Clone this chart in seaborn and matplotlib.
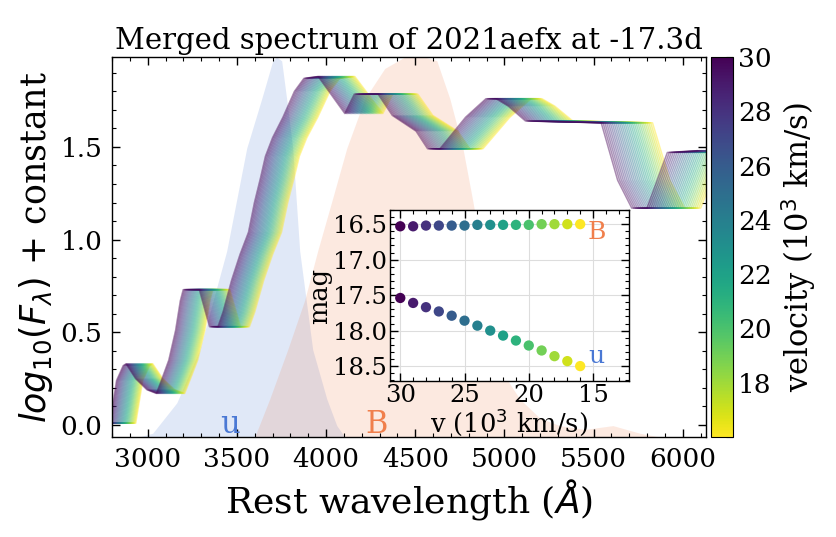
import matplotlib
matplotlib.use('Agg')
import matplotlib.pyplot as plt
import numpy as np
import pandas as pd
import seaborn as sns
from matplotlib.ticker import MultipleLocator

# template spectrum, as it looks at 16e3 km/s (the yellow copy)
wave_16 = [2888, 2933, 2972, 3011, 3028, 3084, 3151, 3207, 3236, 3280, 3320, 3348, 3365,
           3460, 3520, 3570, 3600, 3650, 3700, 3750, 3785, 3820, 3850, 3892, 3953, 4021,
           4077, 4161, 4318, 4374, 4514, 4598, 4738, 4806, 4879, 5030, 5150, 5210, 5282,
           5383, 5830, 5927, 6010, 6100, 6220, 6400]
flux_16 = [0.01, 0.01, 0.24, 0.32, 0.33, 0.25, 0.19, 0.17, 0.24, 0.35, 0.51, 0.67, 0.73,
           0.73, 0.53, 0.53, 0.61, 0.78, 0.92, 1.04, 1.20, 1.33, 1.45, 1.55, 1.66, 1.80,
           1.87, 1.88, 1.68, 1.785, 1.785, 1.67, 1.585, 1.49, 1.49, 1.66, 1.76, 1.76, 1.72,
           1.64, 1.63, 1.32, 1.17, 1.17, 1.47, 1.48]
spec_vel = [16.0, 16.5, 17.0, 17.5, 18.0, 18.5, 19.0, 19.5, 20.0, 20.5, 21.0, 21.5, 22.0,
            22.5, 23.0, 23.5, 24.0, 24.5, 25.0, 25.5, 26.0, 26.5, 27.0, 27.5, 28.0, 28.5,
            29.0, 29.5, 30.0]

# filter curves (normalised transmission)
u_wave = [2950, 3028, 3163, 3292, 3443, 3555, 3639, 3701, 3723, 3751, 3779, 3813, 3852,
          3925, 4004, 4060, 4105, 4200]
u_trans = [0.0, 0.01, 0.09, 0.23, 0.49, 0.76, 0.89, 0.99, 1.0, 0.99, 0.89, 0.76, 0.49,
           0.23, 0.10, 0.03, 0.0, 0.0]
B_wave = [3500, 3600, 3684, 3785, 3880, 3953, 4032, 4116, 4217, 4329, 4441, 4553, 4621,
          4694, 4767, 4823, 4870, 4915, 4974, 5086, 5198, 5310, 5451, 5608, 5759, 5871, 6000]
B_trans = [0.0, 0.0, 0.10, 0.23, 0.36, 0.49, 0.62, 0.76, 0.89, 0.97, 1.0, 1.0, 0.99,
           0.89, 0.76, 0.62, 0.49, 0.32, 0.18, 0.10, 0.05, 0.03, 0.02, 0.03, 0.01, 0.0, 0.0]

# synthetic photometry for the inset
phot_vel = [30, 29, 28, 27, 26, 25, 24, 23, 22, 21, 20, 19, 18, 17, 16]
mag_B = [16.53, 16.53, 16.52, 16.52, 16.52, 16.52, 16.51, 16.51, 16.51, 16.51, 16.51,
         16.50, 16.50, 16.50, 16.50]
mag_u = [17.54, 17.61, 17.67, 17.73, 17.79, 17.86, 17.93, 18.00, 18.07, 18.14, 18.21,
         18.28, 18.36, 18.43, 18.50]

C = 300.0  # speed of light, 1e3 km/s
u_col = '#4a78d4'
B_col = '#f07f4c'
YLO, YHI = -0.065, 1.985

sns.set_style('ticks')
plt.rcParams['font.family'] = ['DejaVu Serif']
plt.rcParams.update({
    'text.color': 'black', 'axes.labelcolor': 'black', 'axes.edgecolor': 'black',
    'xtick.color': 'black', 'ytick.color': 'black',
    'xtick.direction': 'in', 'ytick.direction': 'in',
    'xtick.top': True, 'ytick.right': True,
    'xtick.major.size': 6, 'ytick.major.size': 6,
    'xtick.minor.size': 3, 'ytick.minor.size': 3,
    'xtick.major.width': 1, 'ytick.major.width': 1,
    'xtick.minor.width': 0.8, 'ytick.minor.width': 0.8,
    'axes.linewidth': 1.0,
})

fig = plt.figure(figsize=(8.36, 5.37), dpi=100)
ax = fig.add_axes([0.134, 0.1862, 0.7105, 0.7076])

# filters
ax.fill_between(u_wave, YLO - 0.1, YLO + np.array(u_trans) * (YHI - YLO),
                color=u_col, alpha=0.17, lw=0, zorder=0)
ax.fill_between(B_wave, YLO - 0.1, YLO + np.array(B_trans) * (YHI - YLO),
                color=B_col, alpha=0.17, lw=0, zorder=0)

# shifted spectra
rows = []
for v in spec_vel:
    scale = (C - v) / (C - 16.0)
    for w, f in zip(wave_16, flux_16):
        rows.append((w * scale, f, v))
df = pd.DataFrame(rows, columns=['wave', 'flux', 'vel'])
sns.lineplot(data=df, x='wave', y='flux', hue='vel', units='vel', estimator=None,
             sort=False, palette='viridis_r', hue_norm=(16, 30), legend=False,
             lw=1.1, alpha=0.45, ax=ax)

ax.text(3460, 0.0, 'u', color=u_col, fontsize=22, ha='center', va='center')
ax.text(4284, 0.0, 'B', color=B_col, fontsize=22, ha='center', va='center')

ax.set_xlim(2800, 6130)
ax.set_ylim(YLO, YHI)
ax.xaxis.set_major_locator(MultipleLocator(500))
ax.xaxis.set_minor_locator(MultipleLocator(100))
ax.yaxis.set_major_locator(MultipleLocator(0.5))
ax.yaxis.set_minor_locator(MultipleLocator(0.1))
ax.tick_params(which='both', labelsize=19, pad=7)
ax.set_xlabel('Rest wavelength ($Å$)', fontsize=26, labelpad=4)
ax.set_ylabel('$log_{10}(F_{\\lambda})$ + constant', fontsize=25, labelpad=4)
ax.set_title('Merged spectrum of 2021aefx at -17.3d', fontsize=21, pad=6)

# colorbar
cax = fig.add_axes([0.8505, 0.1862, 0.0263, 0.7076])
sm = plt.cm.ScalarMappable(cmap='viridis_r', norm=plt.Normalize(16, 30))
cb = fig.colorbar(sm, cax=cax)
cb.set_ticks([18, 20, 22, 24, 26, 28, 30])
cb.ax.yaxis.set_minor_locator(MultipleLocator(1))
cb.ax.tick_params(which='both', direction='in', labelsize=19, length=5, width=0.8)
cb.set_label('velocity (10$^3$ km/s)', fontsize=22, labelpad=6)
cb.outline.set_linewidth(0.8)

# inset
axin = fig.add_axes([0.4665, 0.2905, 0.2859, 0.3185])
axin.set_facecolor('white')
sns.scatterplot(x=phot_vel, y=mag_B, hue=phot_vel, palette='viridis_r', hue_norm=(16, 30),
                s=55, edgecolor='none', legend=False, ax=axin, zorder=3)
sns.scatterplot(x=phot_vel, y=mag_u, hue=phot_vel, palette='viridis_r', hue_norm=(16, 30),
                s=55, edgecolor='none', legend=False, ax=axin, zorder=3)
axin.text(14.7, 16.62, 'B', color=B_col, fontsize=18, ha='center', va='center')
axin.text(14.75, 18.36, 'u', color=u_col, fontsize=18, ha='center', va='center')
axin.set_xlim(30.8, 12.2)
axin.set_ylim(18.71, 16.3)
axin.xaxis.set_major_locator(MultipleLocator(5))
axin.xaxis.set_minor_locator(MultipleLocator(1))
axin.yaxis.set_major_locator(MultipleLocator(0.5))
axin.yaxis.set_minor_locator(MultipleLocator(0.1))
axin.grid(True, which='major', color='#dddddd', lw=0.8)
axin.tick_params(which='both', labelsize=17.5, pad=2)
axin.set_xlabel('v (10$^3$ km/s)', fontsize=18.5, labelpad=0)
axin.set_ylabel('mag', fontsize=18.5, labelpad=1)

plt.savefig('out.png', dpi=100)
